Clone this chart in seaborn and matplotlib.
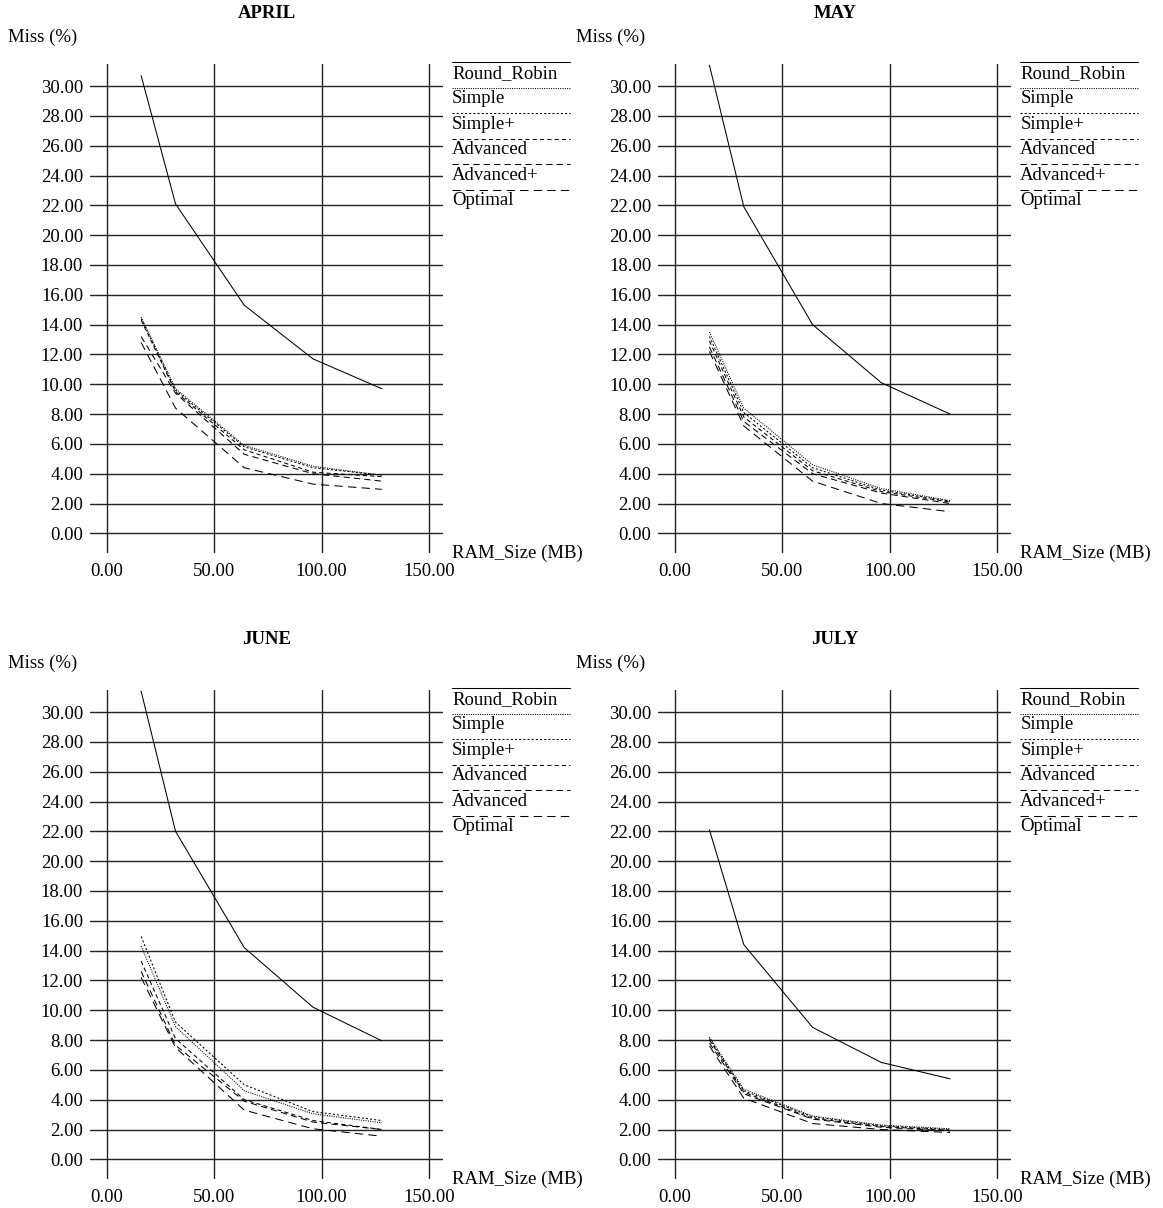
import numpy as np
import pandas as pd
import matplotlib.pyplot as plt
from matplotlib.lines import Line2D
import seaborn as sns

ram_sizes = [16, 32, 64, 96, 128]
months = ['APRIL', 'MAY', 'JUNE', 'JULY']
policies = ['Round_Robin', 'Simple', 'Simple+', 'Advanced', 'Advanced+', 'Optimal']

# miss rate (%) per policy, one list per month
april_round_robin = [30.7, 22.1, 15.3, 11.7, 9.7]
april_simple = [14.5, 9.7, 5.9, 4.5, 3.9]
april_simple_plus = [14.4, 9.6, 5.8, 4.4, 3.9]
april_advanced = [14.3, 9.5, 5.6, 4.1, 3.8]
april_advanced_plus = [13.2, 9.4, 5.3, 4.0, 3.5]
april_optimal = [12.8, 8.4, 4.4, 3.3, 2.95]

may_round_robin = [31.4, 21.9, 14.0, 10.1, 8.0]
may_simple = [13.5, 8.4, 4.6, 3.0, 2.2]
may_simple_plus = [13.2, 8.1, 4.4, 2.9, 2.15]
may_advanced = [12.9, 7.8, 4.2, 2.8, 2.1]
may_advanced_plus = [12.5, 7.5, 4.0, 2.7, 2.0]
may_optimal = [12.2, 7.2, 3.5, 2.0, 1.45]

june_round_robin = [31.4, 22.0, 14.2, 10.2, 7.95]
june_simple = [14.3, 8.9, 4.6, 3.05, 2.45]
june_simple_plus = [14.95, 9.2, 5.0, 3.2, 2.6]
june_advanced = [13.3, 8.1, 4.0, 2.6, 2.0]
june_advanced_plus = [12.6, 7.65, 3.9, 2.5, 2.0]
june_optimal = [12.2, 7.5, 3.3, 2.05, 1.55]

july_round_robin = [22.1, 14.4, 8.85, 6.5, 5.4]
july_simple = [8.2, 4.7, 2.9, 2.3, 2.05]
july_simple_plus = [8.1, 4.6, 2.85, 2.25, 2.0]
july_advanced = [8.0, 4.5, 2.75, 2.2, 1.95]
july_advanced_plus = [7.8, 4.4, 2.7, 2.15, 1.9]
july_optimal = [7.6, 4.1, 2.4, 2.0, 1.8]

legend_labels = {
    'APRIL': ['Round_Robin', 'Simple', 'Simple+', 'Advanced', 'Advanced+', 'Optimal'],
    'MAY': ['Round_Robin', 'Simple', 'Simple+', 'Advanced', 'Advanced+', 'Optimal'],
    'JUNE': ['Round_Robin', 'Simple', 'Simple+', 'Advanced', 'Advanced', 'Optimal'],
    'JULY': ['Round_Robin', 'Simple', 'Simple+', 'Advanced', 'Advanced+', 'Optimal'],
}

month_series = {
    'APRIL': [april_round_robin, april_simple, april_simple_plus, april_advanced, april_advanced_plus, april_optimal],
    'MAY': [may_round_robin, may_simple, may_simple_plus, may_advanced, may_advanced_plus, may_optimal],
    'JUNE': [june_round_robin, june_simple, june_simple_plus, june_advanced, june_advanced_plus, june_optimal],
    'JULY': [july_round_robin, july_simple, july_simple_plus, july_advanced, july_advanced_plus, july_optimal],
}

rows = []
for month in months:
    for policy, values in zip(policies, month_series[month]):
        for ram, miss in zip(ram_sizes, values):
            rows.append({'month': month, 'policy': policy, 'ram': ram, 'miss': miss})
df = pd.DataFrame(rows)

dash_styles = {
    'Round_Robin': '',
    'Simple': (1, 1.2),
    'Simple+': (2, 2),
    'Advanced': (4, 3),
    'Advanced+': (6, 4),
    'Optimal': (8, 5),
}

sns.set_theme(style='white')
plt.rcParams['font.family'] = ['Liberation Serif', 'DejaVu Serif']
plt.rcParams['text.color'] = 'black'
FS = 13.5
LW = 0.75

W, H = 1163, 1208
fig = plt.figure(figsize=(W / 100, H / 100), dpi=100)

# axes boxes in pixels (left, top); the grid lines run past the data range like xgraph
ax_w, ax_h = 353, 489.3
boxes = {
    'APRIL': (90, 64),
    'MAY': (658.3, 64),
    'JUNE': (90, 690),
    'JULY': (658.3, 690),
}

for month in months:
    left, top = boxes[month]
    ax = fig.add_axes([left / W, 1 - (top + ax_h) / H, ax_w / W, ax_h / H])
    sub = df[df['month'] == month]
    sns.lineplot(data=sub, x='ram', y='miss', style='policy', style_order=policies,
                 dashes=dash_styles, color='black', lw=LW, legend=False, ax=ax)

    ax.set_xlim(-7.8, 156.5)
    ax.set_ylim(-1.34, 31.48)
    ax.set_xticks([0, 50, 100, 150])
    ax.set_yticks(np.arange(0, 31, 2))
    ax.xaxis.set_major_formatter(plt.FormatStrFormatter('%.2f'))
    ax.yaxis.set_major_formatter(plt.FormatStrFormatter('%.2f'))
    ax.tick_params(axis='both', length=0, labelsize=FS, colors='black')
    ax.tick_params(axis='y', pad=5)
    ax.tick_params(axis='x', pad=7)
    ax.grid(True, color='#222222', lw=1.0)
    ax.set_axisbelow(True)
    for s in ax.spines.values():
        s.set_visible(False)
    ax.set_xlabel('')
    ax.set_ylabel('')

    ax.text(0.5, 1.104, month, transform=ax.transAxes, ha='center', va='center',
            fontsize=FS, fontweight='bold')
    ax.text(-82 / ax_w, (ax_h + 27) / ax_h, 'Miss (%)', transform=ax.transAxes,
            ha='left', va='center', fontsize=FS)
    ax.text(362 / ax_w, 0.0, 'RAM_Size (MB)', transform=ax.transAxes,
            ha='left', va='center', fontsize=FS)

    # legend: line above each label
    for i, (policy, label) in enumerate(zip(policies, legend_labels[month])):
        y_line = (ax_h + 1.7 - 25.5 * i) / ax_h
        y_text = (ax_h - 9.5 - 25.4 * i) / ax_h
        dash = dash_styles[policy]
        line = Line2D([361.7 / ax_w, 480 / ax_w], [y_line, y_line], transform=ax.transAxes,
                      color='black', lw=LW, clip_on=False)
        if dash:
            line.set_dashes(dash)
        ax.add_line(line)
        ax.text(362 / ax_w, y_text, label, transform=ax.transAxes,
                ha='left', va='center', fontsize=FS)

fig.savefig('out.png', dpi=100)
